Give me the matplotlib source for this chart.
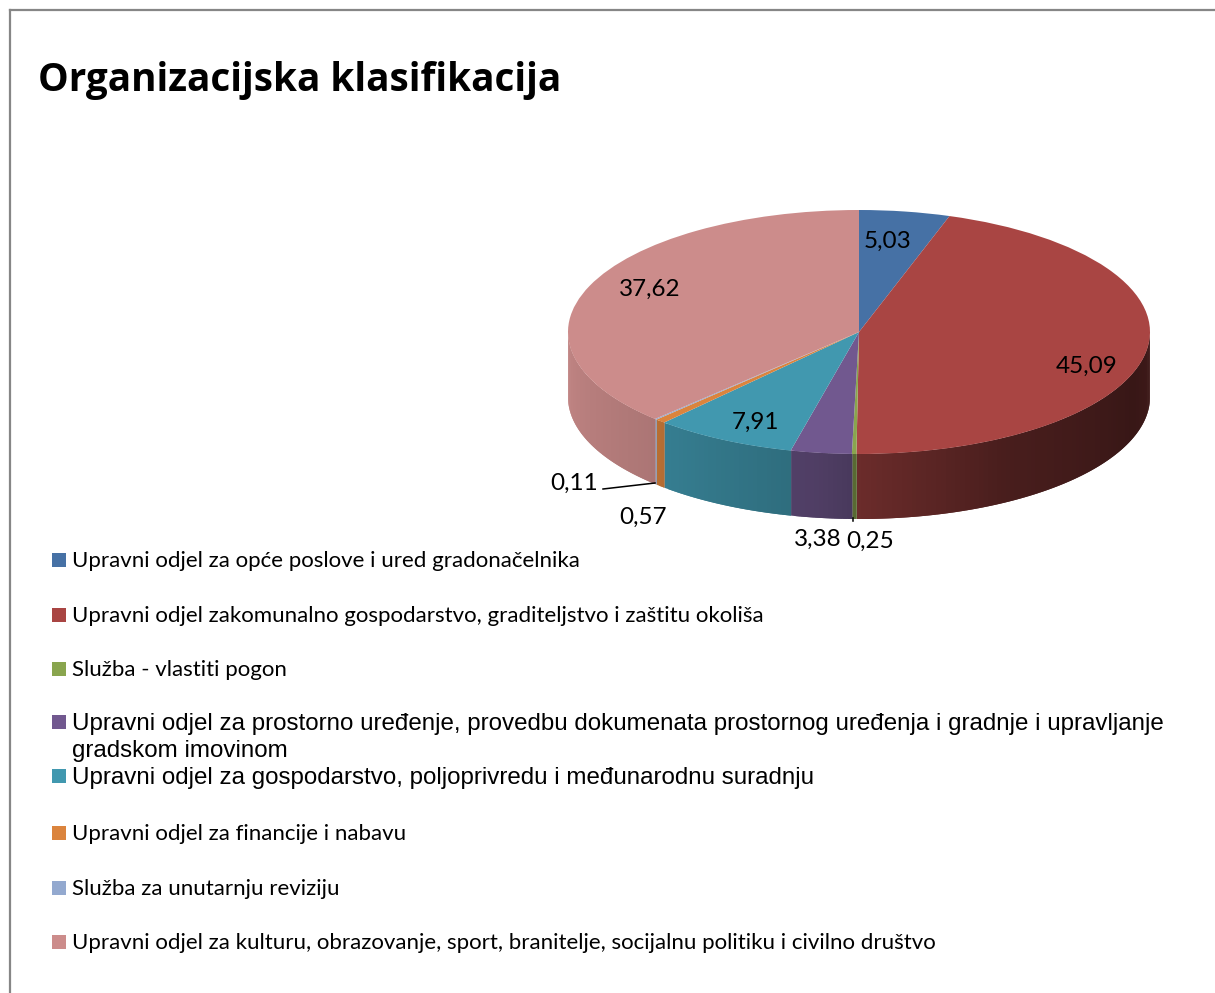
#!/usr/bin/env python3
"""Organizacijska klasifikacija - 3D pie look with a manual legend."""

import numpy as np
import matplotlib
matplotlib.use("Agg")
import matplotlib.pyplot as plt
from matplotlib.patches import Rectangle

W, H = 1215, 993

labels = [
    "Upravni odjel za opće poslove i ured gradonačelnika",
    "Upravni odjel zakomunalno gospodarstvo, graditeljstvo i zaštitu okoliša",
    "Služba - vlastiti pogon",
    "Upravni odjel za prostorno uređenje, provedbu dokumenata prostornog uređenja i gradnje i upravljanje\ngradskom imovinom",
    "Upravni odjel za gospodarstvo, poljoprivredu i međunarodnu suradnju",
    "Upravni odjel za financije i nabavu",
    "Služba za unutarnju reviziju",
    "Upravni odjel za kulturu, obrazovanje, sport, branitelje, socijalnu politiku i civilno društvo",
]
values = [5.03, 45.09, 0.25, 3.38, 7.91, 0.57, 0.11, 37.62]
colors = ["#4671a5", "#a94543", "#89a54e", "#71588f", "#4198af", "#db843d", "#93a9cf", "#cc8c8b"]

# layout, in reference pixels
cx, cy, rx, ry, depth = 859, 332, 291, 122, 65
legend_y = [560, 615, 669, 722, 776, 833, 888, 942]
label_xy = [(888, 241), (1087, 366), (870, 541), (818, 539), (756, 422), (643, 517), (574, 483), (650, 289)]
shade_t = [180, 222, 262, 272, 300, 340, 360]
shade_f = [0.95, 0.85, 0.70, 0.62, 0.43, 0.33, 0.38]

fig = plt.figure(figsize=(W / 100, H / 100), dpi=100, facecolor="white")
ax = fig.add_axes([0, 0, 1, 1])

# top of the pie, squashed to an ellipse by the non-equal axes
ax.pie(values, colors=colors, startangle=90, counterclock=False, radius=1,
       wedgeprops={"linewidth": 0})
ax.set_aspect("auto")
ax.set_xlim(-cx / rx, (W - cx) / rx)
ax.set_ylim((cy - H) / ry, cy / ry)
ax.axis("off")


def px(x, y):
    return (x - cx) / rx, (cy - y) / ry


# side wall, thin overlapping strips for the shading (overlap hides the seams)
d = depth / ry
edges = 90 - np.cumsum([0] + values) * 3.6
for i, col in enumerate(colors):
    hi, lo = edges[i] % 360, edges[i + 1] % 360
    if hi == 0:
        hi = 360
    if lo > hi:
        lo -= 360
    spans = [(max(lo, 180), min(hi, 360))]
    if lo < 0:
        spans.append((lo + 360, 360))
    base = np.array(matplotlib.colors.to_rgb(col))
    for a, b in spans:
        if b <= a:
            continue
        steps = np.linspace(a, b, max(2, int(b - a) + 2))
        for j in range(len(steps) - 1):
            t0, t1 = steps[j], steps[min(j + 2, len(steps) - 1)]
            f = np.interp((steps[j] + steps[j + 1]) / 2, shade_t, shade_f)
            tt = np.radians(np.linspace(t0, t1, 4))
            xs = np.r_[np.cos(tt), np.cos(tt[::-1])]
            ys = np.r_[np.sin(tt), np.sin(tt[::-1]) - d]
            ax.fill(xs, ys, color=base * f, lw=0, zorder=0.5)

# value labels
for v, (x, y) in zip(values, label_xy):
    lx, ly = px(x, y)
    ax.text(lx, ly, f"{v:.2f}".replace(".", ","), fontsize=17.5, family="Lato",
            ha="center", va="center", color="black", zorder=5)

# leader lines
ax.plot(*zip(px(603, 489), px(655, 483)), color="black", lw=1.1, zorder=5)
ax.plot(*zip(px(853, 518), px(853, 521)), color="black", lw=1.1, zorder=5)

# page frame
for x0, y0, x1, y1 in [(10, 10, W, 10), (10, 10, 10, H)]:
    fig.add_artist(plt.Line2D([x0 / W, x1 / W], [1 - y0 / H, 1 - y1 / H], color="#868686", lw=1.6))

fig.text(38 / W, 1 - 80 / H, "Organizacijska klasifikacija", fontsize=27.8, fontweight="bold",
         family="Open Sans", va="center", color="black")

# legend
for i, (lab, col, y) in enumerate(zip(labels, colors, legend_y)):
    arial = i in (3, 4)
    fig.add_artist(Rectangle((52 / W, 1 - (y + 7) / H), 14 / W, 14 / H, color=col,
                             transform=fig.transFigure, lw=0))
    fig.text(72 / W, 1 - (y - 9) / H, lab, fontsize=17.35 if arial else 16.05,
             family="Liberation Sans" if arial else "Lato",
             va="top", ha="left", color="black", linespacing=1.27)

fig.savefig("out.png", dpi=100)
